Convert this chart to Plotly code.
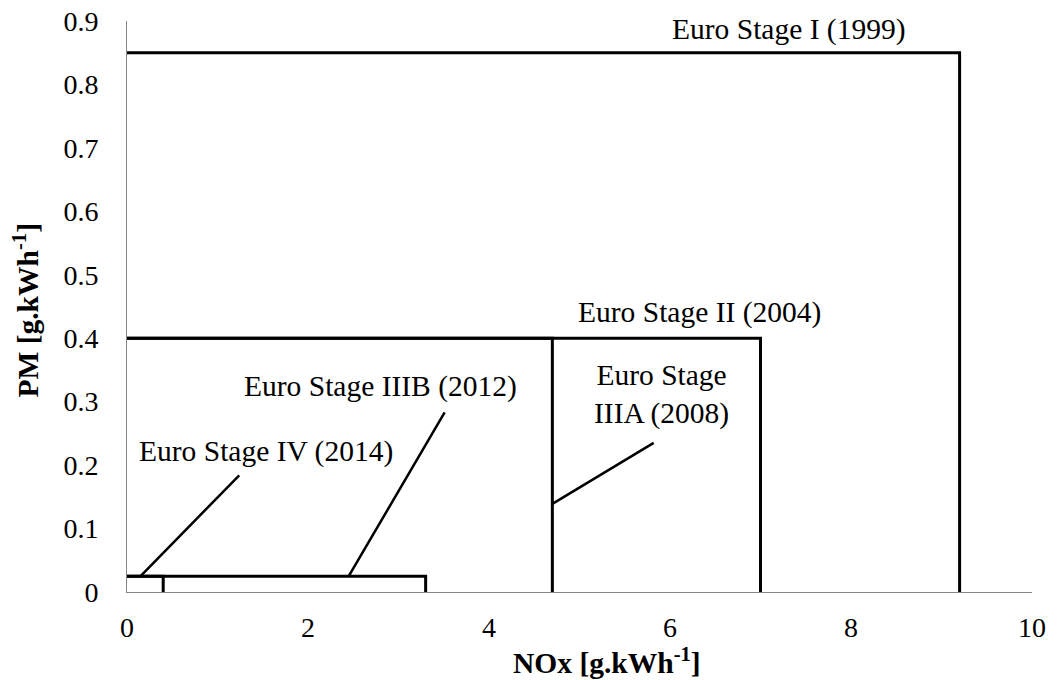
import plotly.graph_objects as go

# Stage limits (NOx, PM)
stages = ["Euro Stage I (1999)", "Euro Stage II (2004)", "Euro Stage IIIA (2008)",
          "Euro Stage IIIB (2012)", "Euro Stage IV (2014)"]
nox_limits = [9.2, 7.0, 4.7, 3.3, 0.4]
pm_limits = [0.85, 0.4, 0.4, 0.025, 0.025]

# Label texts and their anchor points (data coords)
label_texts = ["Euro Stage I (1999)", "Euro Stage II (2004)", "Euro Stage<br>IIIA (2008)",
               "Euro Stage IIIB (2012)", "Euro Stage IV (2014)"]
label_x = [7.31, 6.33, 5.91, 2.80, 1.54]
label_y = [0.886, 0.441, 0.312, 0.324, 0.222]

# Leader lines (from box to label)
leader_x0 = [4.7, 2.45, 0.15]
leader_y0 = [0.139, 0.025, 0.025]
leader_x1 = [5.82, 3.51, 1.24]
leader_y1 = [0.235, 0.283, 0.184]

x_ticks = [0, 2, 4, 6, 8, 10]
y_ticks = [0, 0.1, 0.2, 0.3, 0.4, 0.5, 0.6, 0.7, 0.8, 0.9]
y_tick_text = ["0", "0.1", "0.2", "0.3", "0.4", "0.5", "0.6", "0.7", "0.8", "0.9"]

FONT = "Liberation Serif, Times New Roman, serif"
LABEL_SIZE = 29.5

fig = go.Figure()
for name, nx, pm in zip(stages, nox_limits, pm_limits):
    fig.add_trace(go.Scatter(
        x=[0, nx, nx], y=[pm, pm, 0], mode="lines", name=name,
        line=dict(color="black", width=3), showlegend=False, hoverinfo="skip"))

for x0, y0, x1, y1 in zip(leader_x0, leader_y0, leader_x1, leader_y1):
    fig.add_trace(go.Scatter(
        x=[x0, x1], y=[y0, y1], mode="lines",
        line=dict(color="black", width=2.5), showlegend=False, hoverinfo="skip"))

annotations = []
for t, x, y in zip(label_texts, label_x, label_y):
    annotations.append(dict(x=x, y=y, xref="x", yref="y", text=t, showarrow=False,
                            xanchor="center", yanchor="middle",
                            font=dict(family=FONT, size=LABEL_SIZE, color="black")))

annotations.append(dict(x=0.530, y=-0.121, xref="paper", yref="paper",
                        text="<b>NOx [g.kWh<sup>-1</sup>]</b>", showarrow=False,
                        xanchor="center", yanchor="middle",
                        font=dict(family=FONT, size=LABEL_SIZE, color="black")))
annotations.append(dict(x=-0.112, y=0.494, xref="paper", yref="paper",
                        text="<b>PM [g.kWh<sup>-1</sup>]</b>", showarrow=False,
                        textangle=-90, xanchor="center", yanchor="middle",
                        font=dict(family=FONT, size=LABEL_SIZE, color="black")))

fig.update_layout(
    width=1060, height=680,
    margin=dict(l=127, r=28, t=21, b=88, autoexpand=False),
    paper_bgcolor="white", plot_bgcolor="white",
    font=dict(family=FONT, size=28, color="black"),
    annotations=annotations,
    xaxis=dict(range=[0, 10], tickvals=x_ticks, showgrid=False, zeroline=False,
               showline=True, linecolor="#868686", linewidth=1, ticks="", automargin=False,
               ticklabelstandoff=10, tickfont=dict(family=FONT, size=28, color="black")),
    yaxis=dict(range=[0, 0.9], tickvals=y_ticks, ticktext=y_tick_text, showgrid=False,
               zeroline=False, showline=True, linecolor="#868686", linewidth=1, ticks="",
               automargin=False,
               ticklabelstandoff=22, tickfont=dict(family=FONT, size=28, color="black")),
)

fig.write_html("out.html", config={"displayModeBar": False},
               post_script="document.body.style.margin='0';document.body.style.overflow='hidden';")
